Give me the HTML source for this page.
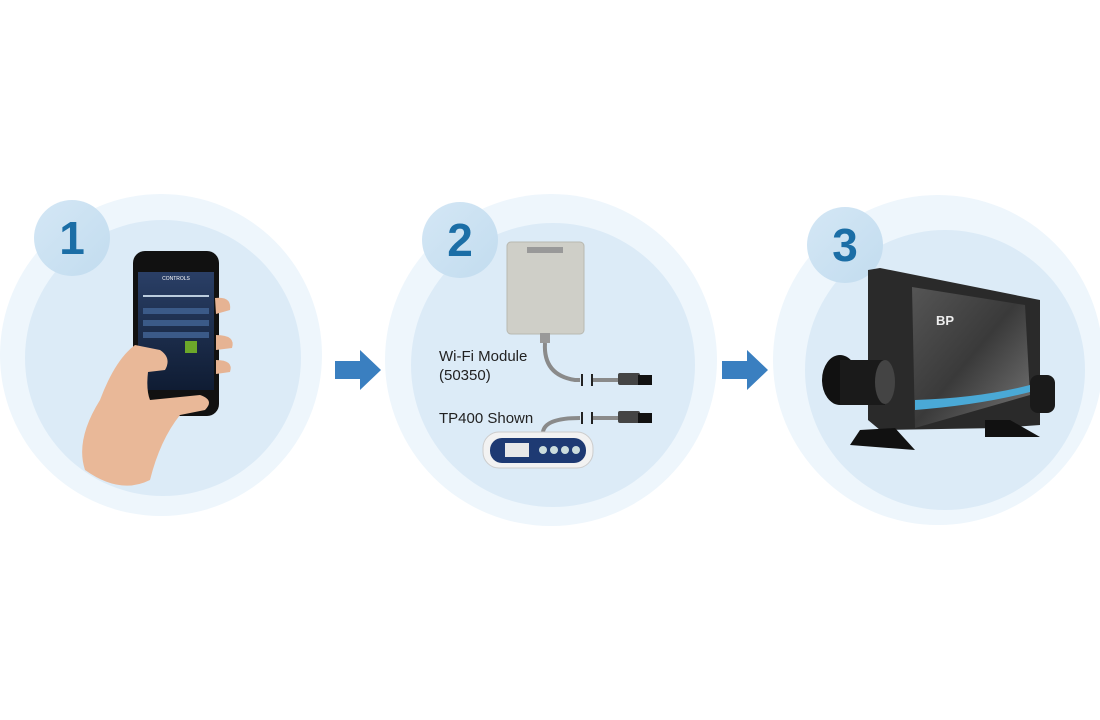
<!DOCTYPE html>
<html><head><meta charset="utf-8"><style>
html,body{margin:0;padding:0;background:#fff;}
svg{display:block}
text{font-family:"Liberation Sans",sans-serif}
</style></head><body>
<svg width="1100" height="720" viewBox="0 0 1100 720" xmlns="http://www.w3.org/2000/svg">
<defs>
<linearGradient id="bd" x1="0" y1="0" x2="1" y2="1"><stop offset="0" stop-color="#d4e7f5"/><stop offset="1" stop-color="#c2dcef"/></linearGradient>
<linearGradient id="scr" x1="0" y1="0" x2="0" y2="1"><stop offset="0" stop-color="#2a3f66"/><stop offset="1" stop-color="#0f1c33"/></linearGradient>
<linearGradient id="face" x1="0" y1="0" x2="1" y2="1"><stop offset="0" stop-color="#555"/><stop offset=".5" stop-color="#3a3a3a"/><stop offset="1" stop-color="#777"/></linearGradient>
</defs>
<!-- circle 1 -->
<circle cx="161" cy="355" r="161" fill="#eef6fc"/>
<circle cx="163" cy="358" r="138" fill="#dcebf7"/>
<circle cx="72" cy="238" r="38" fill="url(#bd)"/>
<text x="72" y="254" font-size="46" font-weight="bold" fill="#1b6ea6" text-anchor="middle">1</text>
<!-- phone & hand -->
<rect x="133" y="251" width="86" height="165" rx="12" fill="#111"/>
<rect x="138" y="272" width="76" height="118" fill="url(#scr)"/>
<text x="176" y="280" font-size="5" fill="#fff" text-anchor="middle">CONTROLS</text>
<rect x="143" y="295" width="66" height="2" fill="#bcd"/>
<rect x="143" y="308" width="66" height="6" fill="#3b5a88"/>
<rect x="143" y="320" width="66" height="6" fill="#3b5a88"/>
<rect x="143" y="332" width="66" height="6" fill="#3b5a88"/>
<rect x="185" y="341" width="12" height="12" fill="#6ca82a"/>
<path d="M85 470 Q75 440 100 400 Q115 360 135 345 L160 350 Q172 358 165 370 L148 372 Q146 390 150 400 L200 395 Q215 400 205 410 L180 415 Q160 440 150 480 Q120 495 85 470Z" fill="#e9b898"/>
<path d="M215 298 Q232 296 230 310 L216 314Z M216 335 Q236 335 232 348 L216 350Z M216 360 Q234 360 230 372 L216 374Z" fill="#e6b393"/>
<!-- arrow 1 -->
<polygon points="335,361 360,361 360,350 381,370 360,390 360,379 335,379" fill="#3a7fc0"/>
<!-- circle 2 -->
<circle cx="551" cy="360" r="166" fill="#eef6fc"/>
<circle cx="553" cy="365" r="142" fill="#dcebf7"/>
<circle cx="460" cy="240" r="38" fill="url(#bd)"/>
<text x="460" y="256" font-size="46" font-weight="bold" fill="#1b6ea6" text-anchor="middle">2</text>
<rect x="507" y="242" width="77" height="92" rx="4" fill="#cfcfc8" stroke="#b8b8b0"/>
<rect x="527" y="247" width="36" height="6" fill="#999"/>
<rect x="540" y="333" width="10" height="10" fill="#999"/>
<path d="M545 343 Q543 375 575 380 L580 380" stroke="#8a8a8a" stroke-width="4" fill="none"/>
<rect x="581" y="374" width="2" height="12" fill="#222"/>
<rect x="591" y="374" width="2" height="12" fill="#222"/>
<path d="M593 380 L620 380" stroke="#8a8a8a" stroke-width="4"/>
<rect x="618" y="373" width="22" height="12" rx="2" fill="#444"/>
<rect x="638" y="375" width="14" height="10" fill="#111"/>
<text x="439" y="361" font-size="15" fill="#222">Wi-Fi Module</text>
<text x="439" y="380" font-size="15" fill="#222">(50350)</text>
<text x="439" y="423" font-size="15" fill="#222">TP400 Shown</text>
<path d="M543 432 Q545 418 580 418" stroke="#8a8a8a" stroke-width="4" fill="none"/>
<rect x="581" y="412" width="2" height="12" fill="#222"/>
<rect x="591" y="412" width="2" height="12" fill="#222"/>
<path d="M593 418 L620 418" stroke="#8a8a8a" stroke-width="4"/>
<rect x="618" y="411" width="22" height="12" rx="2" fill="#444"/>
<rect x="638" y="413" width="14" height="10" fill="#111"/>
<rect x="483" y="432" width="110" height="36" rx="16" fill="#f2f2f2" stroke="#ccc"/>
<rect x="490" y="438" width="96" height="25" rx="12" fill="#1e3a73"/>
<rect x="505" y="443" width="24" height="14" fill="#e8e8e8"/>
<circle cx="543" cy="450" r="4" fill="#cdd"/><circle cx="554" cy="450" r="4" fill="#cdd"/><circle cx="565" cy="450" r="4" fill="#cdd"/><circle cx="576" cy="450" r="4" fill="#cdd"/>
<!-- arrow 2 -->
<polygon points="722,361 747,361 747,350 768,370 747,390 747,379 722,379" fill="#3a7fc0"/>
<!-- circle 3 -->
<circle cx="938" cy="360" r="165" fill="#eef6fc"/>
<circle cx="945" cy="370" r="140" fill="#dcebf7"/>
<circle cx="845" cy="245" r="38" fill="url(#bd)"/>
<text x="845" y="261" font-size="46" font-weight="bold" fill="#1b6ea6" text-anchor="middle">3</text>
<!-- spa pack -->
<path d="M868 270 L880 268 L1040 300 L1040 425 L1000 428 L880 430 L868 420 Z" fill="#2a2a2a"/>
<path d="M912 287 L1025 305 L1030 395 L915 428 Z" fill="url(#face)"/>
<path d="M915 400 Q980 398 1030 385 L1030 392 Q980 405 915 410Z" fill="#4aa9d6"/>
<text x="936" y="325" font-size="13" font-weight="bold" fill="#eee">BP</text>
<ellipse cx="840" cy="380" rx="18" ry="25" fill="#111"/>
<rect x="840" y="360" width="45" height="45" fill="#1a1a1a"/>
<ellipse cx="885" cy="382" rx="10" ry="22" fill="#444"/>
<rect x="1030" y="375" width="25" height="38" rx="8" fill="#1a1a1a"/>
<polygon points="860,430 895,428 915,450 850,445" fill="#111"/>
<polygon points="985,420 1010,420 1040,437 985,437" fill="#111"/>
</svg>
</body></html>
